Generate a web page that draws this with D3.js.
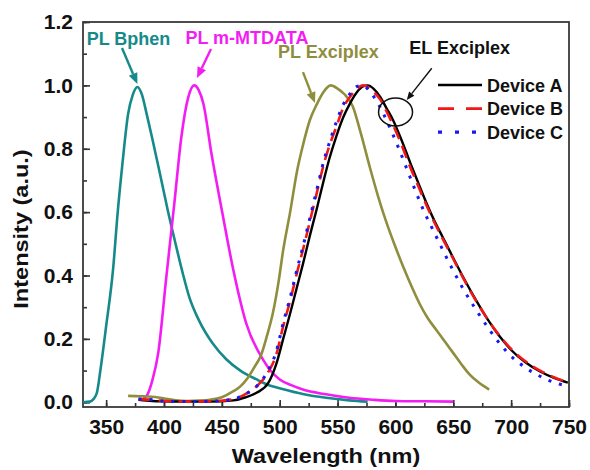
<!DOCTYPE html>
<html>
<head>
<meta charset="utf-8">
<script src="https://cdn.jsdelivr.net/npm/d3@7"></script>
<style>
  body { margin: 0; background: #fff; }
  svg { font-family: "Liberation Sans", Arial, sans-serif; font-weight: bold; }
</style>
</head>
<body>
<div id="chart"></div>
<script>
// spectra (wavelength in nm, normalised intensity)
var bphenNm  = [330, 336, 339, 342, 345, 350, 356, 360, 364, 369, 373, 377, 381, 385, 390, 396, 403, 410, 416, 422, 430, 442, 454, 466, 480, 492, 500, 520, 540, 560, 576];
var bphenVal = [0.0, 0.002, 0.01, 0.03, 0.1, 0.24, 0.42, 0.6, 0.75, 0.91, 0.97, 0.995, 0.97, 0.91, 0.83, 0.73, 0.61, 0.5, 0.41, 0.33, 0.26, 0.186, 0.135, 0.1, 0.072, 0.052, 0.044, 0.026, 0.014, 0.006, 0.002];

var mtdataNm  = [382, 385, 390, 395, 402, 409, 415, 421, 426, 430, 434, 441, 450, 460, 471, 486, 492, 500, 510, 520, 540, 560, 580, 600, 625, 650];
var mtdataVal = [0.012, 0.02, 0.07, 0.155, 0.395, 0.63, 0.837, 0.963, 1.0, 0.985, 0.943, 0.785, 0.606, 0.416, 0.25, 0.132, 0.1, 0.072, 0.054, 0.04, 0.025, 0.014, 0.008, 0.004, 0.003, 0.002];

var exciNm  = [369, 380, 395, 400, 410, 420, 430, 440, 450, 460, 466, 472, 478, 484, 489, 494, 499, 503, 509, 515, 520, 526, 532, 538, 544, 550, 556, 563, 570, 578, 585, 592, 600, 607, 614, 621, 628, 636, 643, 650, 657, 664, 672, 681];
var exciVal = [0.02, 0.019, 0.015, 0.012, 0.006, 0.004, 0.005, 0.008, 0.016, 0.035, 0.05, 0.075, 0.11, 0.15, 0.21, 0.28, 0.38, 0.48, 0.6, 0.73, 0.81, 0.89, 0.94, 0.98, 1.0, 0.99, 0.972, 0.935, 0.85, 0.74, 0.65, 0.57, 0.49, 0.425, 0.365, 0.31, 0.265, 0.225, 0.19, 0.155, 0.12, 0.088, 0.062, 0.04];

var devANm  = [378, 390, 400, 420, 440, 460, 470, 480, 490, 497, 503, 509, 515, 520, 526, 532, 538, 543, 549, 555, 561, 567, 572, 576, 581, 587, 592, 598, 605, 613, 620, 627, 634, 641, 650, 660, 670, 680, 690, 700, 712, 725, 737, 749];
var devAVal = [0.008, 0.004, 0.003, 0.002, 0.002, 0.006, 0.015, 0.03, 0.06, 0.12, 0.2, 0.28, 0.365, 0.435, 0.525, 0.61, 0.7, 0.77, 0.84, 0.9, 0.945, 0.98, 0.997, 1.0, 0.99, 0.963, 0.93, 0.89, 0.83, 0.754, 0.69, 0.627, 0.57, 0.52, 0.455, 0.385, 0.32, 0.26, 0.208, 0.165, 0.127, 0.097, 0.077, 0.062];

var devBNm  = [378, 390, 400, 420, 440, 460, 470, 480, 490, 497, 503, 509, 515, 520, 526, 532, 538, 543, 549, 555, 561, 567, 572, 576, 581, 587, 592, 598, 605, 613, 620, 627, 634, 641, 650, 660, 670, 680, 690, 700, 712, 725, 737, 749];
var devBVal = [0.01, 0.008, 0.004, 0.002, 0.003, 0.01, 0.025, 0.05, 0.095, 0.15, 0.24, 0.32, 0.41, 0.48, 0.57, 0.66, 0.75, 0.81, 0.87, 0.93, 0.965, 0.99, 1.0, 0.995, 0.98, 0.955, 0.92, 0.875, 0.815, 0.74, 0.68, 0.62, 0.565, 0.515, 0.452, 0.382, 0.318, 0.26, 0.21, 0.168, 0.13, 0.1, 0.079, 0.063];

var devCNm  = [378, 390, 400, 420, 440, 460, 470, 480, 490, 497, 503, 509, 515, 520, 526, 532, 538, 543, 549, 555, 561, 567, 572, 577, 583, 589, 596, 603, 610, 617, 625, 633, 641, 650, 659, 670, 682, 696, 712, 725, 739, 745];
var devCVal = [0.01, 0.008, 0.004, 0.002, 0.003, 0.01, 0.025, 0.05, 0.1, 0.16, 0.25, 0.33, 0.42, 0.49, 0.58, 0.67, 0.76, 0.82, 0.885, 0.94, 0.975, 0.997, 1.0, 0.985, 0.955, 0.915, 0.86, 0.8, 0.735, 0.67, 0.6, 0.54, 0.48, 0.415, 0.355, 0.29, 0.225, 0.16, 0.11, 0.082, 0.06, 0.054];

var xTicks = [350, 400, 450, 500, 550, 600, 650, 700, 750];
var yTicks = [0.0, 0.2, 0.4, 0.6, 0.8, 1.0, 1.2];
var legendNames = ["Device A", "Device B", "Device C"];

var width = 590, height = 470;
var margin = { top: 22, right: 21, bottom: 63, left: 83 };

var svg = d3.select('#chart').append('svg')
  .attr('width', width)
  .attr('height', height);

var x = d3.scaleLinear().domain([330, 750]).range([margin.left, width - margin.right]);
var y = d3.scaleLinear().domain([-0.015, 1.2]).range([height - margin.bottom, margin.top]);

// minor ticks first, then major ticks with labels
svg.append('g')
  .attr('transform', `translate(0,${y.range()[0]})`)
  .call(d3.axisBottom(x).tickValues(d3.range(350, 751, 25)).tickSize(-4).tickFormat(''))
  .call(g => g.select('.domain').remove());
svg.append('g')
  .attr('transform', `translate(${x.range()[0]},0)`)
  .call(d3.axisLeft(y).tickValues(d3.range(0, 1.21, 0.1)).tickSize(-4).tickFormat(''))
  .call(g => g.select('.domain').remove());

var xAxis = svg.append('g')
  .attr('transform', `translate(0,${y.range()[0]})`)
  .call(d3.axisBottom(x).tickValues(xTicks).tickSize(-7).tickPadding(12));
xAxis.select('.domain').remove();
xAxis.selectAll('text').style('font-size', '21px').attr('fill', '#111')
  .attr('font-family', '"Liberation Sans", Arial, sans-serif').attr('font-weight', 'bold');

var yAxis = svg.append('g')
  .attr('transform', `translate(${x.range()[0]},0)`)
  .call(d3.axisLeft(y).tickValues(yTicks).tickSize(-7).tickPadding(10).tickFormat(d3.format('.1f')));
yAxis.select('.domain').remove();
yAxis.selectAll('text').style('font-size', '21px').attr('fill', '#111')
  .attr('font-family', '"Liberation Sans", Arial, sans-serif').attr('font-weight', 'bold');

svg.selectAll('.tick line').attr('stroke', '#333').attr('stroke-width', 1.6);

// frame
svg.append('rect')
  .attr('x', x.range()[0]).attr('y', y.range()[1])
  .attr('width', x.range()[1] - x.range()[0])
  .attr('height', y.range()[0] - y.range()[1])
  .attr('fill', 'none').attr('stroke', '#3a3a3a').attr('stroke-width', 1.8);

// axis titles
svg.append('text')
  .attr('transform', `translate(${(x.range()[0] + x.range()[1]) / 2},463) scale(1.12,1)`)
  .attr('text-anchor', 'middle')
  .style('font-size', '21px').attr('fill', '#111')
  .text('Wavelength (nm)');
svg.append('text')
  .attr('transform', 'translate(28,229) rotate(-90) scale(1.12,1)')
  .attr('text-anchor', 'middle')
  .style('font-size', '21px').attr('fill', '#111')
  .text('Intensity (a.u.)');

var line = d3.line().curve(d3.curveMonotoneX).x(d => x(d[0])).y(d => y(d[1]));

function drawSpectrum(nm, vals, color, dash, w) {
  svg.append('path')
    .datum(d3.zip(nm, vals))
    .attr('d', line)
    .attr('fill', 'none')
    .attr('stroke', color)
    .attr('stroke-width', w)
    .attr('stroke-dasharray', dash)
    .attr('stroke-linejoin', 'round');
}

var teal = '#168a8a', magenta = '#f31df3', olive = '#8e8e3e';
var red = '#f01818', blue = '#1818f0';

drawSpectrum(bphenNm, bphenVal, teal, null, 2.6);
drawSpectrum(mtdataNm, mtdataVal, magenta, null, 2.6);
drawSpectrum(exciNm, exciVal, olive, null, 2.6);
drawSpectrum(devANm, devAVal, '#000', null, 2.4);
drawSpectrum(devBNm, devBVal, red, '13,7', 2.6);
drawSpectrum(devCNm, devCVal, blue, '3,8', 3);

// annotation labels with arrows (positions in data units)
function arrow(x0, y0, x1, y1, color, head, w) {
  var px0 = x(x0), py0 = y(y0), px1 = x(x1), py1 = y(y1);
  var a = Math.atan2(py1 - py0, px1 - px0);
  var bx = px1 - head * Math.cos(a), by = py1 - head * Math.sin(a);
  svg.append('line')
    .attr('x1', px0).attr('y1', py0).attr('x2', bx).attr('y2', by)
    .attr('stroke', color).attr('stroke-width', w);
  var hw = head * 0.42;
  svg.append('path')
    .attr('d', `M${px1},${py1}L${bx + hw * Math.sin(a)},${by - hw * Math.cos(a)}L${bx - hw * Math.sin(a)},${by + hw * Math.cos(a)}Z`)
    .attr('fill', color);
}

function note(xv, yv, txt, color) {
  svg.append('text')
    .attr('x', x(xv)).attr('y', y(yv))
    .style('font-size', '18px')
    .attr('fill', color)
    .text(txt);
}

note(333.2, 1.127, 'PL Bphen', teal);
arrow(363.7, 1.118, 377, 1.004, teal, 11, 2.4);

note(418.5, 1.129, 'PL m-MTDATA', magenta);
arrow(440.6, 1.115, 428.5, 1.023, magenta, 11, 2.4);

note(498.5, 1.085, 'PL Exciplex', olive);
arrow(520.1, 1.042, 530.5, 0.944, olive, 11, 2.4);

note(612, 1.1, 'EL Exciplex', '#111');
arrow(631.4, 1.054, 609.8, 0.954, '#111', 8, 1.4);

svg.append('ellipse')
  .attr('cx', x(600.1)).attr('cy', y(0.916))
  .attr('rx', 17).attr('ry', 14)
  .attr('fill', 'none').attr('stroke', '#111').attr('stroke-width', 1.5);

// legend
var legendStyles = [
  { color: '#000', dash: null, w: 2.6 },
  { color: red, dash: '16,12', w: 2.8 },
  { color: blue, dash: '4,13', w: 3.2 }
];
var legend = svg.append('g');
legendNames.forEach(function(name, i) {
  var ly = 85 + i * 23.6;
  legend.append('line')
    .attr('x1', 438).attr('x2', 482).attr('y1', ly).attr('y2', ly)
    .attr('stroke', legendStyles[i].color)
    .attr('stroke-width', legendStyles[i].w)
    .attr('stroke-dasharray', legendStyles[i].dash);
  legend.append('text')
    .attr('x', 487).attr('y', ly + 6.5)
    .style('font-size', '18px').attr('fill', '#111')
    .text(name);
});
</script>
</body>
</html>
